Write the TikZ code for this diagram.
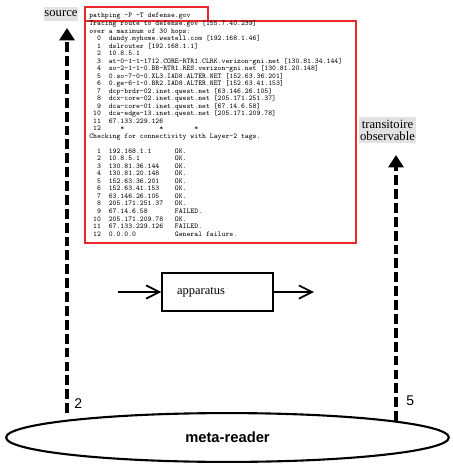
\documentclass[tikz,border=0pt]{standalone}
\usepackage{fontspec}
\setmainfont{Liberation Serif}
\setsansfont{Liberation Sans}
\usepackage{tikz}
\usetikzlibrary{arrows.meta,shapes.geometric}

\definecolor{labelgray}{RGB}{226,226,226}
\definecolor{tracered}{RGB}{232,40,44}

\tikzset{
  termline/.style={anchor=base west,inner sep=0pt,font=\ttfamily\fontsize{4.17}{4.26}\selectfont},
  termbox/.style={draw=tracered,line width=0.6pt},
  tag/.style={fill=labelgray,inner xsep=0.4pt,inner ysep=1.3pt,align=center,font=\fontsize{7.2}{6.8}\selectfont},
  probe/.style={line width=1.9pt,dash pattern=on 5.6pt off 2.3pt,-{Triangle[length=7pt,width=8.5pt]}},
  flow/.style={line width=0.75pt,-{Straight Barb[length=7.5pt,width=7.5pt,line width=1pt]}},
  unit/.style={draw,line width=1.1pt,minimum width=62.9pt,minimum height=21.5pt,text width=45.9pt,inner xsep=8.5pt,align=left,font=\fontsize{7.1}{8}\selectfont},
  reader/.style={ellipse,draw,line width=1.2pt,minimum width=252pt,minimum height=27.8pt,inner sep=0pt,font=\sffamily\bfseries\fontsize{8.4}{10}\selectfont},
  hop/.style={anchor=west,inner sep=0pt,font=\sffamily\fontsize{8}{9}\selectfont}
}

\begin{document}
\frenchspacing
\begin{tikzpicture}[x=0.02cm,y=-0.02cm]
		\useasboundingbox (0,0) rectangle (453,468);

		% >>> pathping output
		\draw[termbox] (85,7) rectangle (208,21);
		\draw[termbox] (85,21) rectangle (356,243);
		\node[termline] (cmd) at (89,17.5) {pathping -P -T defense.gov};
		\foreach \tline [count=\i] in {
			{Tracing route to defense.gov [155.7.40.239]},
			{over a maximum of 30 hops:},
			{~~0~~dandy.myhome.westell.com [192.168.1.46]},
			{~~1~~dslrouter [192.168.1.1]},
			{~~2~~10.8.5.1},
			{~~3~~at-0-1-1-1712.CORE-RTR1.CLRK.verizon-gni.net [130.81.34.144]},
			{~~4~~so-2-1-1-0.BB-RTR1.RES.verizon-gni.net [130.81.20.148]},
			{~~5~~0.so-7-0-0.XL3.IAD8.ALTER.NET [152.63.36.201]},
			{~~6~~0.ge-6-1-0.BR2.IAD8.ALTER.NET [152.63.41.153]},
			{~~7~~dcp-brdr-02.inet.qwest.net [63.146.26.105]},
			{~~8~~dcx-core-02.inet.qwest.net [205.171.251.37]},
			{~~9~~dca-core-01.inet.qwest.net [67.14.6.58]},
			{~10~~dca-edge-13.inet.qwest.net [205.171.209.78]},
			{~11~~67.133.229.126},
			{~12~~~~~*~~~~~~~~~*~~~~~~~~*},
			{Checking for connectivity with Layer-2 tags.},
			{},
			{~~1~~192.168.1.1~~~~~~OK.},
			{~~2~~10.8.5.1~~~~~~~~~OK.},
			{~~3~~130.81.36.144~~~~OK.},
			{~~4~~130.81.20.148~~~~OK.},
			{~~5~~152.63.36.201~~~~OK.},
			{~~6~~152.63.41.153~~~~OK.},
			{~~7~~63.146.26.105~~~~OK.},
			{~~8~~205.171.251.37~~~OK.},
			{~~9~~67.14.6.58~~~~~~~FAILED.},
			{~10~~205.171.209.78~~~OK.},
			{~11~~67.133.229.126~~~FAILED.},
			{~12~~0.0.0.0~~~~~~~~~~General failure.}}
			\node[termline] (trace-\i) at (89,{25.5+(\i-1)*7.52}) {\tline};
		% <<< pathping output

		% >>> labels
		\node[tag,minimum height=7.9pt] (source) at (61,14) {source};
		\node[tag] (transit) at (387.5,130) {transitoire\\observable};
		% <<< labels

		% >>> meta-reader
		\node[reader] (meta) at (227.5,437.5) {meta-reader};
		\coordinate (src-foot) at (67,413);
		\coordinate (src-tip) at (67,28);
		\coordinate (obs-foot) at (396,421);
		\coordinate (obs-tip) at (396,155);
		\draw[probe] (src-foot) -- (src-tip);
		\draw[probe] (obs-foot) -- (obs-tip);
		\node[hop] (hop-src) at (74,403.5) {2};
		\node[hop] (hop-obs) at (406,401) {5};
		% <<< meta-reader

		% >>> apparatus
		\node[unit] (app) at (217.5,292) {apparatus};
		\coordinate (app-in) at (118,292);
		\coordinate (app-out) at (314,292);
		\draw[flow] (app-in) -- (app.west);
		\draw[flow] (app.east) -- (app-out);
		% <<< apparatus
\end{tikzpicture}
\end{document}
